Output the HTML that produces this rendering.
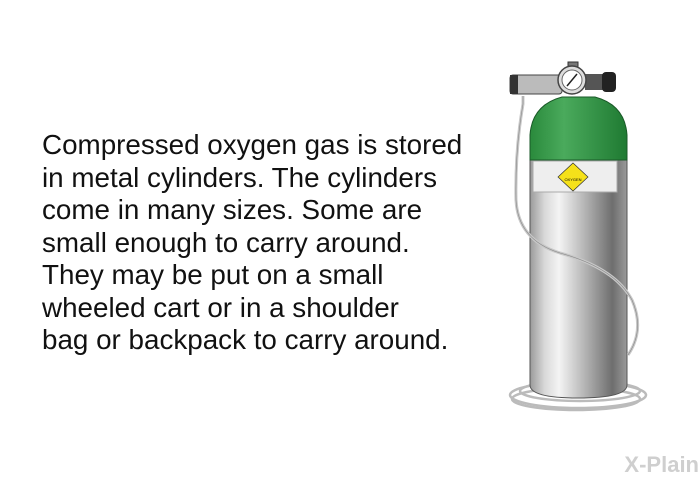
<!DOCTYPE html>
<html><head><style>
body{margin:0;width:700px;height:480px;background:#fff;overflow:hidden;position:relative}
.t{position:absolute;left:42px;top:129px;font-family:"Liberation Sans",Arial,sans-serif;font-size:27.8px;line-height:32.5px;color:#111;white-space:nowrap}
</style></head><body>
<div class="t">Compressed oxygen gas is stored<br>in metal cylinders. The cylinders<br>come in many sizes. Some are<br>small enough to carry around.<br>They may be put on a small<br>wheeled cart or in a shoulder<br>bag or backpack to carry around.</div>
<svg width="700" height="480" style="position:absolute;left:0;top:0">
<defs>
<linearGradient id="m" x1="0" x2="1">
<stop offset="0" stop-color="#9a9a9a"/><stop offset=".15" stop-color="#d8d8d8"/><stop offset=".3" stop-color="#f4f4f4"/><stop offset=".55" stop-color="#b8b8b8"/><stop offset=".85" stop-color="#6e6e6e"/><stop offset="1" stop-color="#9a9a9a"/></linearGradient>
<linearGradient id="g" x1="0" x2="1">
<stop offset="0" stop-color="#2a8a3c"/><stop offset=".35" stop-color="#4aaa5c"/><stop offset="1" stop-color="#1f7a32"/></linearGradient>
</defs>
<g fill="none" stroke="#bbb" stroke-width="2.5">
<ellipse cx="578" cy="395" rx="68" ry="13"/>
<ellipse cx="576" cy="399" rx="64" ry="11"/>
<ellipse cx="580" cy="391" rx="60" ry="10"/>
</g>
<path d="M530 160 L627 160 L627 385 Q627 398 578 398 Q530 398 530 385 Z" fill="url(#m)" stroke="#555" stroke-width="1"/>
<path d="M530 160 L530 135 Q532 105 562 97 L595 97 Q625 105 627 135 L627 160 Z" fill="url(#g)" stroke="#1a5a28" stroke-width="1"/>
<rect x="533" y="161" width="84" height="31" fill="#eee" stroke="#aaa"/>
<polygon points="573,163 588,177 573,191 558,177" fill="#f5e11a" stroke="#333" stroke-width=".7"/>
<text x="573" y="181" font-size="4" text-anchor="middle" font-family="Liberation Sans">OXYGEN</text>
<rect x="510" y="75" width="52" height="19" rx="3" fill="#bbb" stroke="#444"/>
<rect x="510" y="75" width="8" height="19" fill="#333"/>
<rect x="568" y="62" width="10" height="10" fill="#777" stroke="#333"/>
<rect x="585" y="74" width="18" height="16" fill="#555"/>
<rect x="602" y="72" width="14" height="20" rx="4" fill="#222"/>
<circle cx="572" cy="80" r="14" fill="#ddd" stroke="#444" stroke-width="1.5"/>
<circle cx="572" cy="80" r="10" fill="#fff" stroke="#666"/>
<line x1="567" y1="86" x2="577" y2="74" stroke="#222" stroke-width="1.5"/>
<path d="M523 96 L523 104 Q515 150 516 200 Q518 240 560 253 Q615 268 632 300 Q645 330 628 355" fill="none" stroke="#c8c8c8" stroke-width="3"/>
<path d="M523 96 L523 104 Q515 150 516 200 Q518 240 560 253 Q615 268 632 300 Q645 330 628 355" fill="none" stroke="#888" stroke-width="0.6"/>
<text x="699" y="472" font-size="22" font-weight="bold" text-anchor="end" font-family="Liberation Sans" fill="#cfcfcf">X-Plain</text>
</svg>
</body></html>
